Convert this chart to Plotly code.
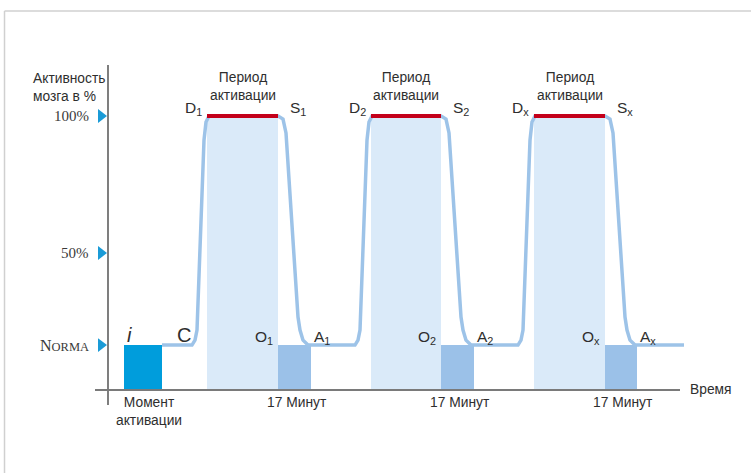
import plotly.graph_objects as go

# ---------------- data ----------------
norma = 16.4                      # baseline brain activity, %
y_ticks = [100, 50, norma]
y_tick_labels = ["100%", "50%", "<span style='font-size:16px'>N</span>ORMA"]

moment_start, moment_end = 16, 54          # activation moment block (time units)
curve_start, curve_end = 54, 576

t_rise = [84, 247, 410]                    # start of rise for each cycle
t_peak = [99, 263, 426]                    # start of activation period (100%)
t_end = [170, 333, 497]                    # end of activation period
t_back = [203, 366, 529]                   # end of 17-minute block

rise_off = [0, 3, 5, 12, 14, 17]
rise_y = [16.4, 18.2, 21.9, 91.2, 97.8, 100]
fall_off = [0, 5, 8, 20, 22, 25, 30]
fall_y = [100, 98.9, 93.8, 26.6, 21.9, 18.2, 16.4]

d_labels = ["D<sub>1</sub>", "D<sub>2</sub>", "D<sub>x</sub>"]
s_labels = ["S<sub>1</sub>", "S<sub>2</sub>", "S<sub>x</sub>"]
o_labels = ["O<sub>1</sub>", "O<sub>2</sub>", "O<sub>x</sub>"]
a_labels = ["A<sub>1</sub>", "A<sub>2</sub>", "A<sub>x</sub>"]
period_label = "Период<br>активации"
minutes_label = "17 Минут"
moment_label = "Момент<br>активации"
y_title = "Активность<br>мозга в %"
x_title = "Время"

# ---------------- colours ----------------
LINE = "#9DC3E8"
LIGHT = "#DAEAF9"
DARK = "#9BC1E8"
MOMENT = "#009DDC"
RED = "#C4001A"
ARROW = "#1A9BD7"
TXT = "#2E2E2E"
SANS = "Liberation Sans, Arial, sans-serif"
SERIF = "Liberation Serif, Times New Roman, serif"

fig = go.Figure()

# activation periods (light)
fig.add_trace(go.Bar(
    x=[(a + b) / 2 for a, b in zip(t_peak, t_end)],
    y=[100] * 3, base=0,
    width=[b - a for a, b in zip(t_peak, t_end)],
    marker=dict(color=LIGHT, line=dict(width=0)),
    hoverinfo="skip", showlegend=False))

# 17-minute blocks (dark)
fig.add_trace(go.Bar(
    x=[(a + b) / 2 for a, b in zip(t_end, t_back)],
    y=[norma] * 3, base=0,
    width=[b - a for a, b in zip(t_end, t_back)],
    marker=dict(color=DARK, line=dict(width=0)),
    hoverinfo="skip", showlegend=False))

# activation moment
fig.add_trace(go.Bar(
    x=[(moment_start + moment_end) / 2], y=[norma], base=0,
    width=[moment_end - moment_start],
    marker=dict(color=MOMENT, line=dict(width=0)),
    hoverinfo="skip", showlegend=False))

# activity curve
cx, cy = [curve_start], [norma]
for r, e in zip(t_rise, t_end):
    cx += [r + o for o in rise_off]
    cy += rise_y
    cx += [e + o for o in fall_off]
    cy += fall_y
cx.append(curve_end)
cy.append(norma)
fig.add_trace(go.Scatter(x=cx, y=cy, mode="lines",
                         line=dict(color=LINE, width=3.5),
                         hoverinfo="skip", showlegend=False))

# red activation bars
for a, b in zip(t_peak, t_end):
    fig.add_trace(go.Scatter(x=[a, b], y=[100, 100], mode="lines",
                             line=dict(color=RED, width=4),
                             hoverinfo="skip", showlegend=False))

# tick arrows
fig.add_trace(go.Scatter(x=[-7] * 3, y=y_ticks, mode="markers",
                         marker=dict(symbol="triangle-right", size=12, color=ARROW),
                         hoverinfo="skip", showlegend=False))

shapes = [
    # y axis
    dict(type="line", xref="x", yref="y", x0=0, x1=0, y0=-5.5, y1=118.6,
         line=dict(color="#3A3A3A", width=1.3)),
    # x axis (baseline)
    dict(type="line", xref="x", yref="y", x0=-13, x1=572, y0=0, y1=0,
         line=dict(color="#7A7A7A", width=2)),
    # frame
    dict(type="line", xref="paper", yref="paper", x0=0.006, x1=1.0, y0=0.977, y1=0.977,
         line=dict(color="#D0D0D0", width=1.5)),
    dict(type="line", xref="paper", yref="paper", x0=0.006, x1=0.006, y0=0.977, y1=0,
         line=dict(color="#D0D0D0", width=1.5)),
]

ann = []
def T(x, y, text, size=13.8, xa="center", ya="middle", font=SANS, xs=0, ys=0, align="center", color=TXT):
    ann.append(dict(x=x, y=y, xref="x", yref="y", text=text, showarrow=False,
                    xanchor=xa, yanchor=ya, xshift=xs, yshift=ys, align=align,
                    font=dict(family=font, size=size, color=color)))

# tick labels
for yv, lab in zip(y_ticks, y_tick_labels):
    T(-17, yv, lab, size=15 if "%" in lab else 12.5, xa="right", font=SERIF, color="#3A3A3A")

T(-77, 110.4, y_title, xa="left", align="left")
T(580, 0.2, x_title, xa="left")
T((moment_start + moment_end) / 2 + 6, -8.0, moment_label)

for i in range(3):
    T((t_peak[i] + t_end[i]) / 2, 110.8, period_label)
    T((t_end[i] + t_back[i]) / 2 + 2, -4.7, minutes_label)
    T(t_peak[i], 102.9, d_labels[i], size=15.5, xa="right", xs=-3)
    T(t_end[i], 102.9, s_labels[i], size=15.5, xa="left", xs=10)
    T(t_end[i], 19.0, o_labels[i], size=15.5, xa="right", xs=-3)
    T(t_back[i], 19.0, a_labels[i], size=15.5, xa="left", xs=1)

T(moment_start, 20, "<i>i</i>", size=20, xa="left", xs=1)
T(67, 20, "C", size=20, xa="left")

fig.update_layout(
    width=751, height=473,
    margin=dict(l=0, r=0, t=0, b=0),
    paper_bgcolor="white", plot_bgcolor="white",
    barmode="overlay", bargap=0,
    xaxis=dict(range=[-108, 643], visible=False, fixedrange=True),
    yaxis=dict(range=[-30.29, 142.34], visible=False, fixedrange=True),
    shapes=shapes, annotations=ann,
)

fig.write_html("out.html", config={"displayModeBar": False},
               post_script="document.body.style.margin='0';")
